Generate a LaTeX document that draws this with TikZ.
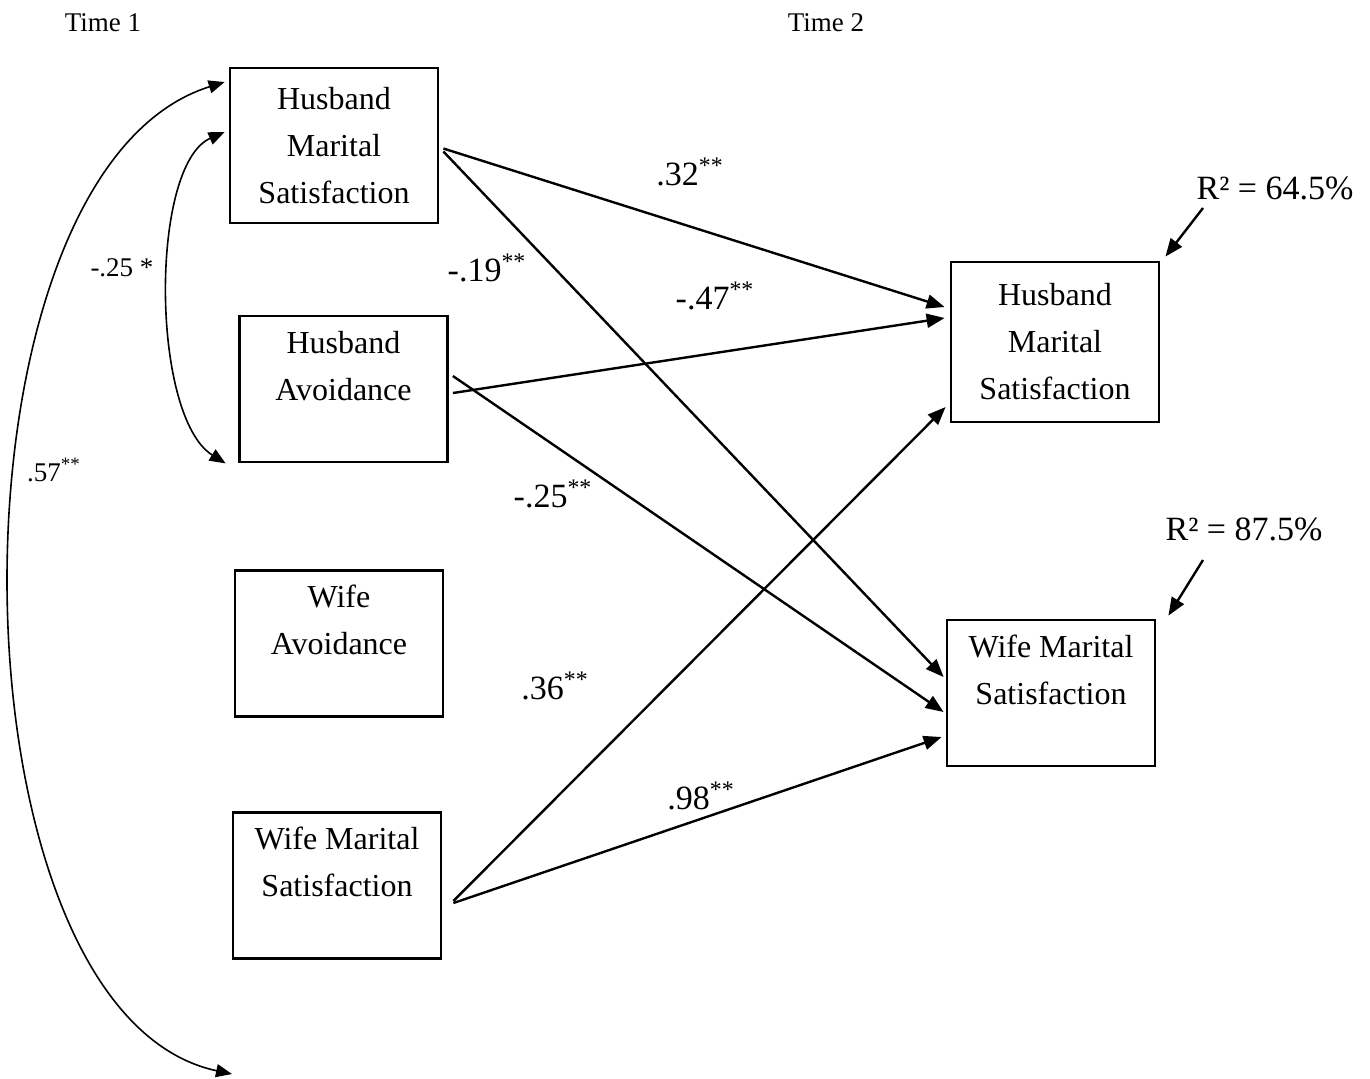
\documentclass[tikz,border=0pt]{standalone}
\usepackage{fontspec}
\setmainfont{Liberation Serif}
\usetikzlibrary{arrows.meta}
\tikzset{
  eff/.style={-{Triangle[length=9pt,width=7pt]}, line width=1.2pt},
  cov/.style={{Triangle[length=8pt,width=6.5pt]}-{Triangle[length=8pt,width=6.5pt]}, line width=0.8pt},
  var/.style={draw, line width=1.4pt, minimum width=104pt, minimum height=73pt, inner sep=0pt,
    align=center, font={\fontsize{16}{23.5}\selectfont}},
  coef/.style={font={\fontsize{17}{20}\selectfont}},
  small/.style={font={\fontsize{13.5}{16}\selectfont}}
}

\begin{document}
\begin{tikzpicture}[x=0.5pt, y=-0.5pt]
  \useasboundingbox (0,0) rectangle (1370,1078);
  % waves
  \node[small] (t1) at (103,23) {Time 1};
  \node[small] (t2) at (826,23) {Time 2};
  % time 1 predictors
  \node[var, minimum height=77.5pt] (hms1) at (334,145.5) {Husband\\Marital\\Satisfaction};
  \node[var] (ha1) at (343.5,389) {Husband\\Avoidance\\\mbox{}};
  \node[var] (wa1) at (339,643.5) {Wife\\Avoidance\\\mbox{}};
  \node[var] (wms1) at (337,885.5) {Wife Marital\\Satisfaction\\\mbox{}};
  % time 2 outcomes
  \node[var, minimum height=80pt] (hms2) at (1055,342) {Husband\\Marital\\Satisfaction};
  \node[var] (wms2) at (1051,693) {Wife Marital\\Satisfaction\\\mbox{}};
  % paths
  \draw[eff] ([shift={(4,3)}]hms1.east) -- ([shift={(-5,-35)}]hms2.west);
  \draw[eff] ([shift={(4,6)}]hms1.east) -- ([shift={(-2,-16)}]wms2.west);
  \draw[eff] ([shift={(4,4)}]ha1.east) -- ([shift={(-5,-24)}]hms2.west);
  \draw[eff] ([shift={(4,-13)}]ha1.east) -- ([shift={(-2,19)}]wms2.west);
  \draw[eff] ([shift={(11,15.5)}]wms1.east) -- ([shift={(-4,65)}]hms2.west);
  \draw[eff] ([shift={(11,17.5)}]wms1.east) -- ([shift={(-4,44)}]wms2.west);
  \node[coef] (p1) at (690,172) {.32\textsuperscript{**}};
  \node[coef] (p2) at (487,268) {-.19\textsuperscript{**}};
  \node[coef] (p3) at (715,296) {-.47\textsuperscript{**}};
  \node[coef] (p4) at (553,494) {-.25\textsuperscript{**}};
  \node[coef] (p5) at (555,686) {.36\textsuperscript{**}};
  \node[coef] (p6) at (701,796) {.98\textsuperscript{**}};
  % correlations
  \coordinate (low) at (232,1074);
  \draw[cov] ([shift={(-4,-13.5)}]hms1.west) .. controls +(-75,33) and +(-75,-47) .. ([shift={(-12.5,0)}]ha1.south west);
  \draw[cov] ([shift={(-4,-63.5)}]hms1.west) .. controls +(-290,91) and +(-290,-62) .. (low);
  \node[small] (r1) at (122,268) {-.25 *};
  \node[small] (r2) at (54,470) {.57\textsuperscript{**}};
  % explained variance
  \node[coef] (v1) at (1275,188) {R² = 64.5\%};
  \node[coef] (v2) at (1244,529) {R² = 87.5\%};
  \coordinate (v1s) at (1203,208);
  \coordinate (v2s) at (1203,560);
  \draw[eff] (v1s) -- ([shift={(5,-4)}]hms2.north east);
  \draw[eff] (v2s) -- ([shift={(12,-3)}]wms2.north east);
\end{tikzpicture}
\end{document}
